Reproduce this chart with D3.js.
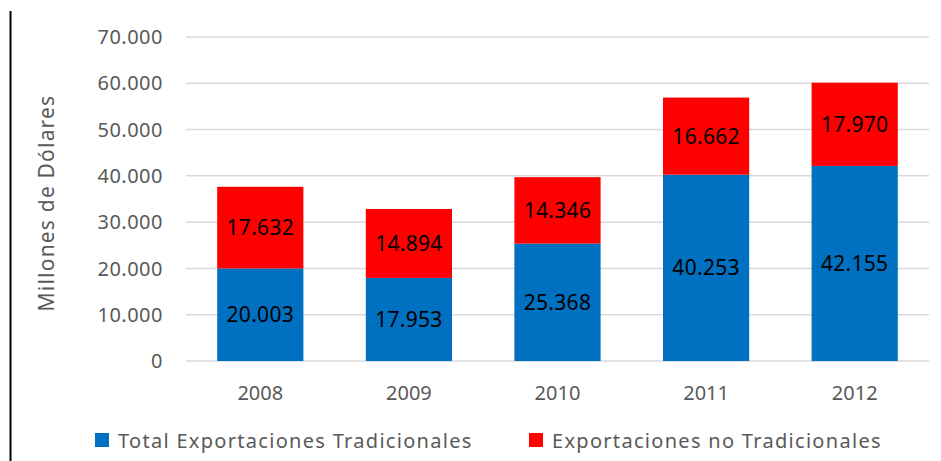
<!DOCTYPE html>
<html>
<head>
<meta charset="utf-8">
<script src="https://cdn.jsdelivr.net/npm/d3@7"></script>
<style>
  body { margin: 0; background: white; }
  text { font-family: "Noto Sans", sans-serif; }
</style>
</head>
<body>
<div id="chart"></div>
<script>
var years = ["2008", "2009", "2010", "2011", "2012"];
var tradicionales = [20003, 17953, 25368, 40253, 42155];
var noTradicionales = [17632, 14894, 14346, 16662, 17970];
var yTicks = [0, 10000, 20000, 30000, 40000, 50000, 60000, 70000];
var seriesNames = ["Total Exportaciones Tradicionales", "Exportaciones no Tradicionales"];
var seriesColors = ["#0070C0", "#FF0000"];

var width = 941, height = 461;
var svg = d3.select("#chart").append("svg")
    .attr("width", width)
    .attr("height", height);

svg.append("rect").attr("width", width).attr("height", height).attr("fill", "white");

// black line at the left edge
svg.append("line")
    .attr("x1", 10.5).attr("x2", 10.5)
    .attr("y1", 11).attr("y2", height)
    .attr("stroke", "black").attr("stroke-width", 2);

var x = d3.scaleBand().domain(years).range([186, 929]).paddingInner(0.42).paddingOuter(0.21);
var y = d3.scaleLinear().domain([0, 70000]).range([361, 37]);

var fmt = function(v) {
  return v === 0 ? "0" : d3.format(",")(v).replace(/,/g, ".");
};

// gridlines
svg.append("g").selectAll("line")
  .data(yTicks).enter().append("line")
    .attr("x1", 186).attr("x2", 929)
    .attr("y1", function(d) { return y(d); })
    .attr("y2", function(d) { return y(d); })
    .attr("stroke", "#D9D9D9").attr("stroke-width", 1.5);

// y tick labels
svg.append("g").selectAll("text")
  .data(yTicks).enter().append("text")
    .attr("x", 163)
    .attr("y", function(d) { return y(d); })
    .attr("dy", "0.36em")
    .attr("text-anchor", "end")
    .attr("fill", "#595959")
    .attr("font-size", 20)
    .attr("letter-spacing", 0.5)
    .text(fmt);

// y axis title
svg.append("text")
  .attr("transform", "translate(46,203) rotate(-90)")
  .attr("text-anchor", "middle")
  .attr("dy", "0.36em")
  .attr("fill", "#595959")
  .attr("font-size", 21)
  .attr("letter-spacing", 1.2)
  .text("Millones de Dólares");

var stackData = years.map(function(yr, i) {
  return { year: yr, a: tradicionales[i], b: noTradicionales[i] };
});
var stack = d3.stack().keys(["a", "b"])(stackData);

var layers = svg.append("g").selectAll("g")
  .data(stack).enter().append("g")
    .attr("fill", function(d, i) { return seriesColors[i]; });

layers.selectAll("rect")
  .data(function(d) { return d; }).enter().append("rect")
    .attr("x", function(d) { return x(d.data.year); })
    .attr("width", x.bandwidth())
    .attr("y", function(d) { return y(d[1]); })
    .attr("height", function(d) { return y(d[0]) - y(d[1]); });

layers.selectAll("text")
  .data(function(d) { return d; }).enter().append("text")
    .attr("x", function(d) { return x(d.data.year) + x.bandwidth() / 2; })
    .attr("y", function(d) { return (y(d[0]) + y(d[1])) / 2; })
    .attr("dy", "0.36em")
    .attr("text-anchor", "middle")
    .attr("fill", "black")
    .attr("font-size", 21)
    .attr("letter-spacing", 0.3)
    .text(function(d) { return fmt(d[1] - d[0]); });

// x labels
svg.append("g").selectAll("text")
  .data(years).enter().append("text")
    .attr("x", function(d) { return x(d) + x.bandwidth() / 2; })
    .attr("y", 393)
    .attr("dy", "0.36em")
    .attr("text-anchor", "middle")
    .attr("fill", "#595959")
    .attr("font-size", 20)
    .text(function(d) { return d; });

// legend
var legendX = [95, 529];
var legend = svg.append("g").selectAll("g")
  .data(seriesNames).enter().append("g")
    .attr("transform", function(d, i) { return "translate(" + legendX[i] + ",433)"; });
legend.append("rect")
  .attr("width", 14).attr("height", 14)
  .attr("fill", function(d, i) { return seriesColors[i]; });
legend.append("text")
  .attr("x", 23).attr("y", 8)
  .attr("dy", "0.36em")
  .attr("fill", "#595959")
  .attr("font-size", 20)
  .attr("letter-spacing", 1.3)
  .text(function(d) { return d; });
</script>
</body>
</html>
